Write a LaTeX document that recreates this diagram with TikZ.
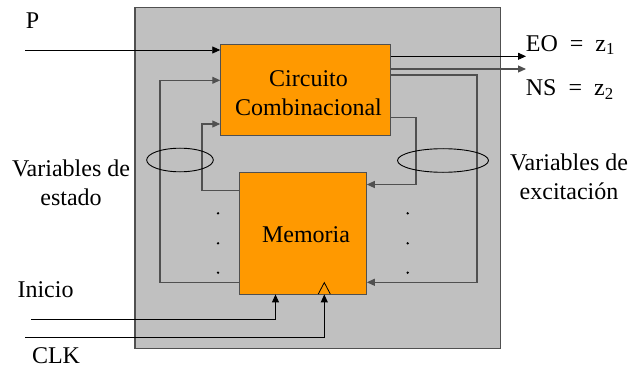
\documentclass[tikz,border=0pt]{standalone}
\usepackage{fontspec}
\setmainfont{Liberation Serif}
\newfontfamily\tms{Liberation Serif}
\usetikzlibrary{arrows.meta}
\definecolor{boxgray}{HTML}{C0C0C0}
\definecolor{edgegray}{HTML}{505050}
\definecolor{orng}{HTML}{FF9900}
\begin{document}
\begin{tikzpicture}[x=1pt,y=-1pt,
  txt/.style={font=\tms\fontsize{24}{29}\selectfont, inner sep=0pt, align=center},
  block/.style={draw=edgegray, line width=0.9pt, fill=orng, inner sep=0pt},
  arr/.style={-{Triangle[length=8pt,width=7pt]}},
  sig/.style={black, line width=0.9pt},
  fb/.style={edgegray, line width=1.1pt},
  dotm/.style={circle, fill=black, inner sep=0pt, minimum size=2.6pt}]
\useasboundingbox (0,0) rectangle (630,369);
% outer gray frame
\path[fill=boxgray, draw=edgegray, line width=1.2pt] (135,7.5) rectangle (500.5,348.5);
% blocks
\node[block, minimum width=169.6pt, minimum height=90.7pt] (circ) at (305.5,89.7) {};
\node[txt] (circtxt) at (308.5,93) {Circuito\\Combinacional};
\node[block, minimum width=127.3pt, minimum height=121.3pt] (mem) at (302.7,233.3) {};
\node[txt] (memtxt) at (306,235) {Memoria};
% labels
\node[txt] (lp) at (32.5,21) {P};
\node[txt, anchor=west] (leo) at (525.7,45) {EO~~=~~z\textsubscript{1}};
\node[txt, anchor=west] (lns) at (525.7,89.5) {NS~~=~~z\textsubscript{2}};
\node[txt] (lve) at (71,182.5) {Variables de\\estado};
\node[txt] (lvx) at (569,176.5) {Variables de\\excitación};
\node[txt] (lini) at (45.5,290) {Inicio};
\node[txt] (lclk) at (56,356) {CLK};
% coordinates
\coordinate (pin) at (25,50);
\coordinate (o1) at (526,56.3);
\coordinate (o2) at (526,69);
\coordinate (ro) at (477,75);
\coordinate (rob) at (477,282.3);
\coordinate (ri) at (416,117.7);
\coordinate (rib) at (416,184.5);
\coordinate (lo) at (160,282.3);
\coordinate (lot) at (160,80.3);
\coordinate (li) at (202,190.7);
\coordinate (lit) at (202,124);
\coordinate (ini) at (31,319.3);
\coordinate (inix) at (275.5,319.3);
\coordinate (clk) at (25,337.7);
\coordinate (clkx) at (324.3,337.7);
% signals
\draw[sig, arr] (pin) -- (pin -| circ.west);
\draw[sig, arr] (o1 -| circ.east) -- (o1);
\draw[fb, arr] (o2 -| circ.east) -- (o2);
% feedback
\draw[fb, arr] (circ.east |- ro) -- (ro) -- (rob) -- (mem.east |- rob);
\draw[fb, arr] (circ.east |- ri) -- (ri) -- (rib) -- (mem.east |- rib);
\draw[fb, arr] (mem.west |- lo) -- (lo) -- (lot) -- (circ.west |- lot);
\draw[fb, arr] (mem.west |- li) -- (li) -- (lit) -- (circ.west |- lit);
% inputs to memory
\draw[sig, arr] (ini) -- (inix) -- (inix |- mem.south);
\draw[sig, arr] (clk) -- (clkx) -- (clkx |- mem.south);
% clock triangle
\draw[black, line width=0.8pt] (318.3,294) -- (324.3,282.6) -- (330.3,294);
% ellipses
\draw[black, line width=0.9pt] (180,160) ellipse [x radius=33.3pt, y radius=11.8pt];
\draw[black, line width=0.9pt] (443,160.5) ellipse [x radius=45.5pt, y radius=11.8pt];
% dots
\foreach \y [count=\i] in {213.3,243.3,272.7}{
  \node[dotm] (dl\i) at (218,\y) {};
  \node[dotm] (dr\i) at (407.7,\y) {};
}
\end{tikzpicture}
\end{document}
